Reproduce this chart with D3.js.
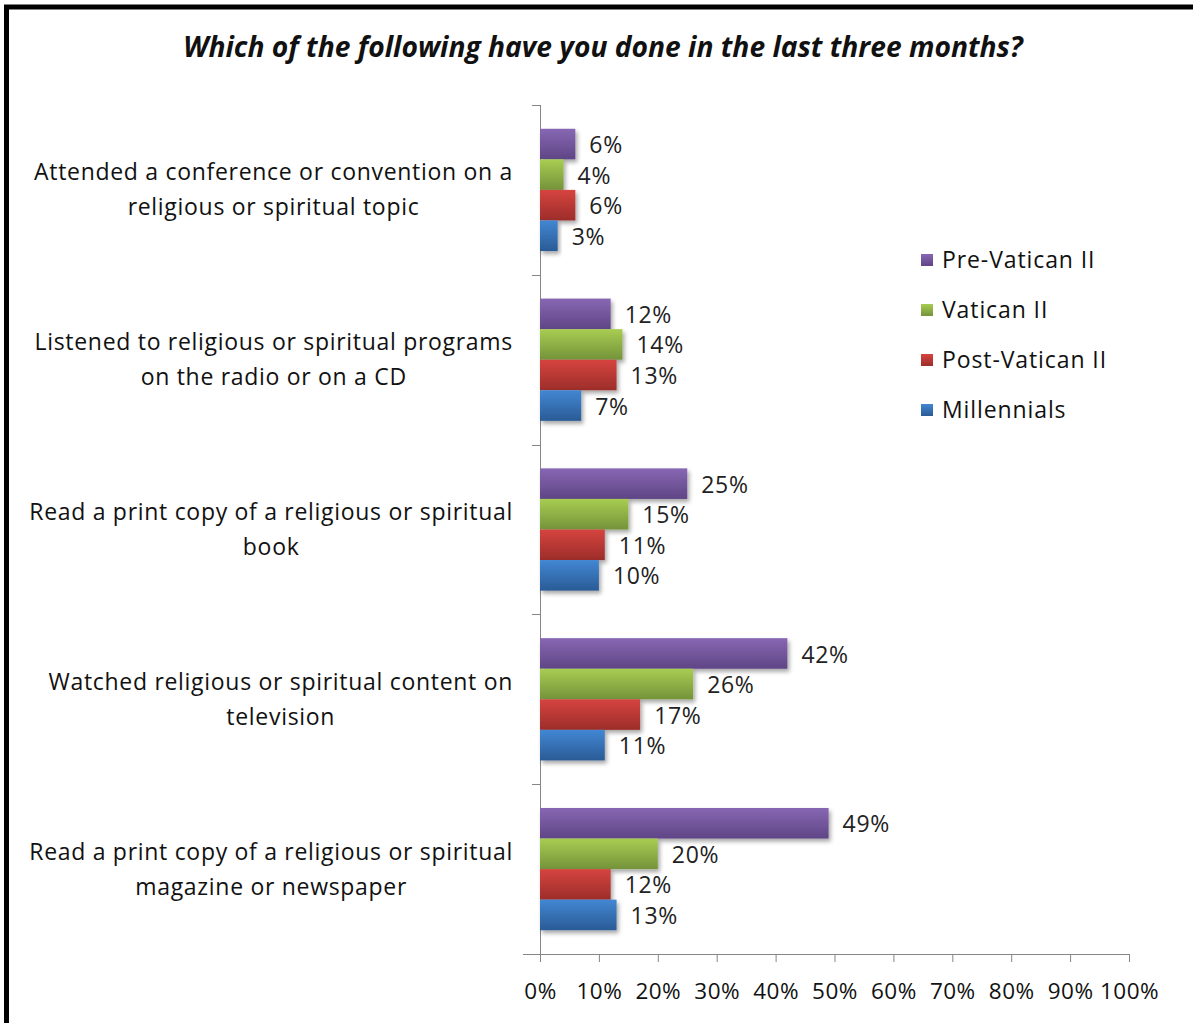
<!DOCTYPE html>
<html>
<head>
<meta charset="utf-8">
<script src="https://cdn.jsdelivr.net/npm/d3@7"></script>
<style>
  body { margin: 0; background: #fff; }
  svg { display: block; font-family: "Open Sans", sans-serif; }
</style>
</head>
<body>
<div id="chart"></div>
<script>
const categories = [
    ["Attended a conference or convention on a", "religious or spiritual topic"],
    ["Listened to religious or spiritual programs", "on the radio or on a CD"],
    ["Read a print copy of a religious or spiritual", "book"],
    ["Watched religious or spiritual content on", "television"],
    ["Read a print copy of a religious or spiritual", "magazine or newspaper"]
];
const seriesNames = ["Pre-Vatican II", "Vatican II", "Post-Vatican II", "Millennials"];
const preVatican = [6, 12, 25, 42, 49];
const vatican = [4, 14, 15, 26, 20];
const postVatican = [6, 13, 11, 17, 12];
const millennials = [3, 7, 10, 11, 13];
const xTicks = [0, 10, 20, 30, 40, 50, 60, 70, 80, 90, 100];

const seriesValues = [preVatican, vatican, postVatican, millennials];
const colors = [
    ["#8767b3", "#5f4585"],
    ["#a8cd52", "#74933a"],
    ["#d6443f", "#9c2d2a"],
    ["#4287d3", "#2a5b96"]
];

const W = 1193, H = 1023;
const margin = { left: 540, right: 64, top: 105, bottom: 69 };
const width = W - margin.left - margin.right;
const height = H - margin.top - margin.bottom;

const svg = d3.select("#chart").append("svg")
    .attr("width", W)
    .attr("height", H);

const defs = svg.append("defs");
colors.forEach((c, i) => {
    const g = defs.append("linearGradient")
        .attr("id", "grad" + i)
        .attr("x1", 0).attr("y1", 0).attr("x2", 0).attr("y2", 1);
    g.append("stop").attr("offset", "0%").attr("stop-color", c[0]);
    g.append("stop").attr("offset", "100%").attr("stop-color", c[1]);
});
defs.append("filter").attr("id", "shadow")
    .attr("x", "-10%").attr("y", "-20%").attr("width", "130%").attr("height", "160%")
    .append("feDropShadow")
    .attr("dx", 2).attr("dy", 3).attr("stdDeviation", 2)
    .attr("flood-color", "#000").attr("flood-opacity", 0.35);

// frame
svg.append("rect")
    .attr("x", 6.5).attr("y", 7)
    .attr("width", W + 20).attr("height", H + 20)
    .attr("fill", "none")
    .attr("stroke", "#000")
    .attr("stroke-width", 5);

svg.append("text")
    .attr("x", 603)
    .attr("y", 57)
    .attr("text-anchor", "middle")
    .attr("font-size", "28.2px")
    .attr("font-weight", "bold")
    .attr("font-style", "italic")
    .attr("fill", "#111")
    .text("Which of the following have you done in the last three months?");

const g = svg.append("g")
    .attr("transform", `translate(${margin.left},${margin.top})`);

const xScale = d3.scaleLinear().domain([0, 100]).range([0, width]);
const yScale = d3.scaleBand().domain(d3.range(categories.length)).range([0, height]).paddingInner(0.28).paddingOuter(0.14);
const ySub = d3.scaleBand().domain(d3.range(seriesNames.length)).range([0, yScale.bandwidth()]);

// axes
const xAxis = d3.axisBottom(xScale).tickValues(xTicks).tickSize(8).tickFormat(d => d + "%");
const xg = g.append("g")
    .attr("transform", `translate(0,${height})`)
    .call(xAxis);
xg.select(".domain").attr("stroke", "#868686").attr("d", `M-17,0.5H${width + 0.5}`);
xg.selectAll(".tick line").attr("stroke", "#868686");
xg.selectAll(".tick text")
    .attr("y", 29)
    .attr("font-size", "22.5px")
    .attr("letter-spacing", "0.5px")
    .attr("fill", "#111")
    .attr("font-family", "'Open Sans', sans-serif");

const bandStep = height / categories.length;
const yLineTicks = d3.range(categories.length + 1).map(i => i * bandStep);
g.append("line")
    .attr("x1", 0.5).attr("x2", 0.5)
    .attr("y1", 0).attr("y2", height)
    .attr("stroke", "#868686");
g.selectAll(".ytick")
    .data(yLineTicks)
    .enter().append("line")
    .attr("class", "ytick")
    .attr("x1", -8).attr("x2", 0)
    .attr("y1", d => Math.round(d) + 0.5)
    .attr("y2", d => Math.round(d) + 0.5)
    .attr("stroke", "#868686");

// category labels
categories.forEach((lines, i) => {
    const cy = yScale(i) + yScale.bandwidth() / 2;
    const t = g.append("text")
        .attr("font-size", "23px")
        .attr("letter-spacing", "0.7px")
        .attr("fill", "#111")
        .attr("text-anchor", "middle");
    lines.forEach((line, j) => {
        t.append("tspan")
            .attr("x", 0)
            .attr("y", cy + (j - (lines.length - 1) / 2) * 35)
            .attr("dy", "0.35em")
            .text(line);
    });
    const w = t.node().getBBox().width;
    t.selectAll("tspan").attr("x", -27 - w / 2);
});

// bars
seriesValues.forEach((vals, s) => {
    g.selectAll(".bar" + s)
        .data(vals)
        .enter().append("rect")
        .attr("class", "bar" + s)
        .attr("x", 0)
        .attr("y", (d, i) => yScale(i) + ySub(s))
        .attr("width", d => xScale(d))
        .attr("height", ySub.bandwidth())
        .attr("fill", `url(#grad${s})`)
        .attr("filter", "url(#shadow)");

    g.selectAll(".label" + s)
        .data(vals)
        .enter().append("text")
        .attr("class", "label" + s)
        .attr("x", d => xScale(d) + 14)
        .attr("y", (d, i) => yScale(i) + ySub(s) + ySub.bandwidth() / 2 + 1)
        .attr("dy", "0.35em")
        .attr("font-size", "23px")
        .attr("letter-spacing", "0.7px")
        .attr("fill", "#222")
        .text(d => d + "%");
});

// legend
const legend = svg.append("g").attr("transform", "translate(921,260)");
seriesNames.forEach((name, i) => {
    const row = legend.append("g").attr("transform", `translate(0,${i * 50})`);
    row.append("rect")
        .attr("x", 0).attr("y", -6)
        .attr("width", 12).attr("height", 12)
        .attr("fill", `url(#grad${i})`);
    row.append("text")
        .attr("x", 21)
        .attr("y", 0)
        .attr("dy", "0.35em")
        .attr("font-size", "23px")
        .attr("letter-spacing", "0.9px")
        .attr("fill", "#111")
        .text(name);
});
</script>
</body>
</html>
